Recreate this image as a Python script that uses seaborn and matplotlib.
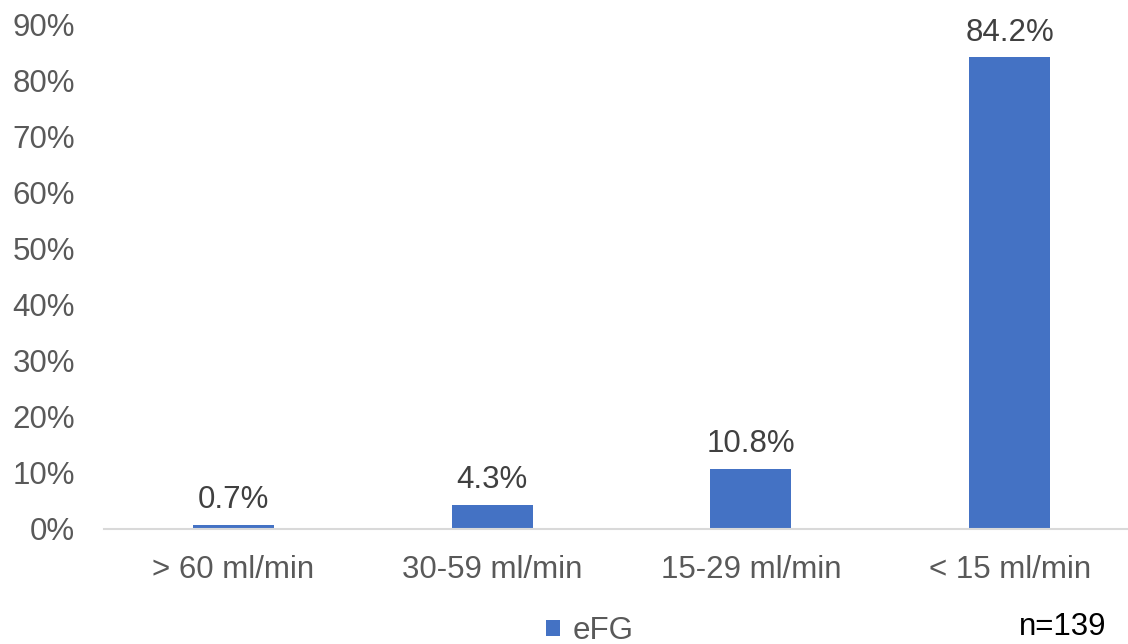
"""
eFG distribution bar chart
"""

import numpy as np
import pandas as pd
import matplotlib
matplotlib.use("Agg")
import matplotlib.pyplot as plt
import seaborn as sns
from matplotlib.ticker import PercentFormatter
from matplotlib.patches import Patch

# Data
categories = ["> 60 ml/min", "30-59 ml/min", "15-29 ml/min", "< 15 ml/min"]
values = [0.007, 0.043, 0.108, 0.842]
labels = ["0.7%", "4.3%", "10.8%", "84.2%"]
series_name = "eFG"
note = "n=139"

sns.set_theme(style="white")
plt.rcParams["font.family"] = ["Liberation Sans", "DejaVu Sans"]

BAR_COLOR = "#4472C4"
TICK_COLOR = "#595959"
LABEL_COLOR = "#404040"
FS = 22.5

df = pd.DataFrame({"category": categories, "value": values, "series": series_name})

fig = plt.figure(figsize=(11.28, 6.44), dpi=100)
ax = fig.add_axes([0.0922, 0.1786, 0.9176, 0.7826])

sns.barplot(data=df, x="category", y="value", hue="series", palette=[BAR_COLOR],
            width=0.313, dodge=False, saturation=1, ax=ax, legend=False,
            edgecolor="none")

ax.set_xlim(-0.5, 3.5)
ax.set_ylim(0, 0.9)
ax.set_yticks(np.arange(0, 0.91, 0.1))
ax.yaxis.set_major_formatter(PercentFormatter(1.0, decimals=0))
ax.set_xlabel("")
ax.set_ylabel("")

for spine in ["top", "right", "left"]:
    ax.spines[spine].set_visible(False)
ax.spines["bottom"].set_color("#d9d9d9")
ax.spines["bottom"].set_linewidth(1.5)

ax.tick_params(axis="y", length=0, pad=21, labelsize=FS, labelcolor=TICK_COLOR)
ax.tick_params(axis="x", length=0, pad=19, labelsize=FS, labelcolor=TICK_COLOR)

# Value labels
for i, (v, lab) in enumerate(zip(values, labels)):
    ax.annotate(lab, (i, v), xytext=(0, 12), textcoords="offset points",
                ha="center", va="baseline", fontsize=FS, color=LABEL_COLOR)

# Legend
handle = Patch(facecolor=BAR_COLOR, edgecolor="none", label=series_name)
fig.legend(handles=[handle], loc="center", bbox_to_anchor=(0.523, 0.02),
           frameon=False, fontsize=FS, labelcolor=TICK_COLOR,
           handlelength=0.45, handleheight=0.45, handletextpad=0.4)

fig.text(0.9805, 0.003, note, ha="right", va="bottom", fontsize=FS, color="black")

fig.savefig("out.png", dpi=100)
